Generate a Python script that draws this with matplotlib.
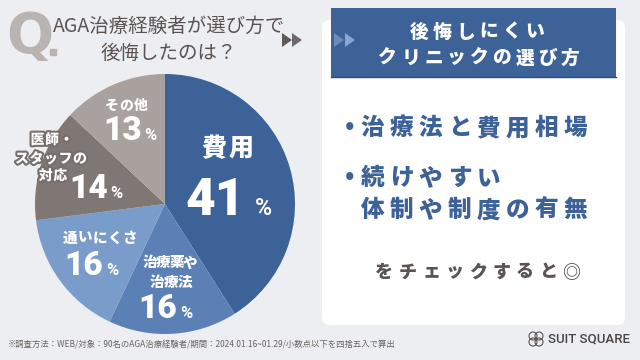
import matplotlib
matplotlib.use("Agg")
import matplotlib.pyplot as plt
import matplotlib.patheffects as pe
from matplotlib.patches import FancyBboxPatch, Rectangle, Polygon, Circle

plt.rcParams['font.family'] = ['Noto Sans CJK JP', 'DejaVu Sans']

# data
categories = ['費用', '治療薬や治療法', '通いにくさ', '医師・スタッフの対応', 'その他']
shares = [41, 16, 16, 14, 13]
colors = ['#3d6298', '#5a80b5', '#7a9ccb', '#7f7773', '#a9a19d']

title_lines = ['AGA治療経験者が選び方で', '後悔したのは？']
header_lines = ['後悔しにくい', 'クリニックの選び方']
points = ['治療法と費用相場', '続けやすい', '体制や制度の有無']
closing = 'をチェックすると◎'
footnote = '※調査方法：WEB/対象：90名のAGA治療経験者/期間：2024.01.16~01.29/小数点以下を四捨五入で算出'

bg_col = '#eceef1'
dark = '#5a5351'
blue = '#3d6298'

fig = plt.figure(figsize=(6.4, 3.6), dpi=100)
fig.patch.set_facecolor(bg_col)

# pie first, overlays on top
ax = fig.add_axes([35 / 640, (360 - 334) / 360, 260 / 640, 260 / 360])
ax.pie(shares, colors=colors, startangle=90, counterclock=False, radius=1,
       wedgeprops=dict(linewidth=0))
ax.set_xlim(-1, 1)
ax.set_ylim(-1, 1)
ax.axis('off')

bg = fig.add_axes([0, 0, 1, 1])
bg.set_xlim(0, 640)
bg.set_ylim(360, 0)
bg.axis('off')


def spaced(xc, y, s, step, **kw):
    # draw text with letter spacing, centered at xc
    x0 = xc - step * len(s) / 2
    for i, ch in enumerate(s):
        bg.text(x0 + step * (i + 0.5), y, ch, ha='center', va='center', **kw)


# title
bg.text(6, 37, 'Q', fontsize=40, color='#b9b3b1', fontweight='bold', ha='left', va='center',
        family=['DejaVu Sans'])
bg.add_patch(Rectangle((50, 49), 6, 6, color='#b9b3b1'))
bg.text(169, 26, title_lines[0], fontsize=14, color=dark, ha='center', va='center')
bg.text(169, 53, title_lines[1], fontsize=14, color=dark, ha='center', va='center')

# card
bg.add_patch(FancyBboxPatch((322, 20), 303, 305, boxstyle='round,pad=0,rounding_size=8',
                            fc='white', ec='none'))
bg.add_patch(Rectangle((331, 8), 285, 69, fc=blue, ec='none'))
bg.plot([331, 616], [76.5, 76.5], color='#2b4c7e', lw=1)
hd = dict(fontsize=13.5, color='white', fontweight='heavy')
spaced(477, 32, header_lines[0], 23, **hd)
spaced(479, 58, header_lines[1], 22.8, **hd)

# arrows
for x0, c in [(282, '#5f5a59'), (292, '#6d6870'), (334, '#6b8cbd'), (345, '#87a7d6')]:
    bg.add_patch(Polygon([[x0, 33], [x0, 47], [x0 + 10, 40]], closed=True, fc=c, ec='none'))

pt = dict(fontsize=17, color=blue, fontweight='heavy')
bg.text(350, 126, '•', ha='center', va='center', **pt)
spaced(358 + 29 * 4, 128, points[0], 29, **pt)
bg.text(350, 176, '•', ha='center', va='center', **pt)
spaced(358 + 29 * 2.5, 178, points[1], 29, **pt)
spaced(358 + 29 * 4, 210, points[2], 29, **pt)
spaced(478, 272, closing, 23.4, fontsize=13, color=dark, fontweight='heavy')

bg.text(8, 344, footnote, fontsize=6, color='#6a6462', ha='left', va='center')

# logo
for dx, dy in [(-3, -3), (3, -3), (-3, 3), (3, 3)]:
    bg.add_patch(Circle((536 + dx, 339 + dy), 4, fc='none', ec='#5a5351', lw=0.8))
bg.text(548, 339, 'SUIT SQUARE', fontsize=9.5, color='#4a4545', ha='left', va='center',
        family=['Roboto'], fontweight='medium')

# pie labels
lab = dict(color='white', fontweight='heavy')
spaced(227, 148, categories[0], 27.5, fontsize=18, **lab)
spaced(126, 106, categories[4], 14.7, fontsize=10, **lab)
stroke = [pe.withStroke(linewidth=3, foreground='#766f6b')]
for xc, y, s in [(52, 140, '医師・'), (51, 159, 'スタッフの'), (53, 176, '対応')]:
    spaced(xc, y, s, 14.5, fontsize=10, path_effects=stroke, **lab)
spaced(100, 238, categories[2], 14.8, fontsize=10.5, **lab)
spaced(170, 263, '治療薬や', 13.5, fontsize=10.5, **lab)
spaced(171, 282, '治療法', 14, fontsize=10.5, **lab)

# percentages
pct = [(245, 215, 37, 10), (177, 318, 24, 3), (103, 275, 24, 3), (108, 198, 24, 2), (142, 140, 24, 2)]
for v, (x, y, fs, gap) in zip(shares, pct):
    bg.text(x, y, str(v), fontsize=fs, color='white', fontweight='black', ha='right',
            va='baseline', family=['Roboto'])
    bg.text(x + gap, y, '%', fontsize=fs * 0.45 if fs > 30 else fs * 0.5, color='white',
            fontweight='bold', ha='left', va='baseline', family=['Roboto'])

fig.savefig('out.png', dpi=100, facecolor=bg_col)
